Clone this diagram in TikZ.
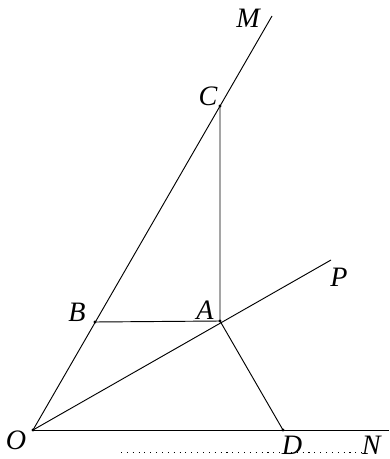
\documentclass[tikz,border=0pt]{standalone}
\usepackage{fontspec}
\setmainfont{Liberation Serif}
\usetikzlibrary{positioning}

\begin{document}
\begin{tikzpicture}[x=0.03cm,y=-0.03cm,line width=0.8pt,
  dot/.style={circle,fill,inner sep=0pt,minimum size=2.6pt},
  lbl/.style={font=\fontsize{24}{27}\selectfont\itshape,inner sep=0pt}]
\useasboundingbox (0,0) rectangle (389,459);
% points
\node[dot] (O) at (33,430) {};
\node[dot] (D) at (283,430) {};
\node[dot] (B) at (95,322) {};
\node[dot] (A) at (220,321) {};
\node[dot] (C) at (220,106) {};
\coordinate (M) at (272,16);
\coordinate (P) at (331,260);
\coordinate (N) at (389,430);
\coordinate (dl) at (121,452);
\coordinate (dr) at (366,452);

\draw (O.center)--(M);
\draw (O.center)--(P);
\draw (O.center)--(N);
\draw (B.center)--(A.center)--(C.center);
\draw (A.center)--(D.center);
\draw[dash pattern=on 0.9pt off 4.1pt] (dl)--(dr);

\node[lbl] at (16,440) {O};
\node[lbl] at (292,445) {D};
\node[lbl,anchor=east] at (381,445) {N};
\node[lbl] at (77,312) {B};
\node[lbl] at (205,310) {A};
\node[lbl] at (208,96) {C};
\node[lbl] at (248,18) {M};
\node[lbl] at (339,277) {P};
\end{tikzpicture}
\end{document}
